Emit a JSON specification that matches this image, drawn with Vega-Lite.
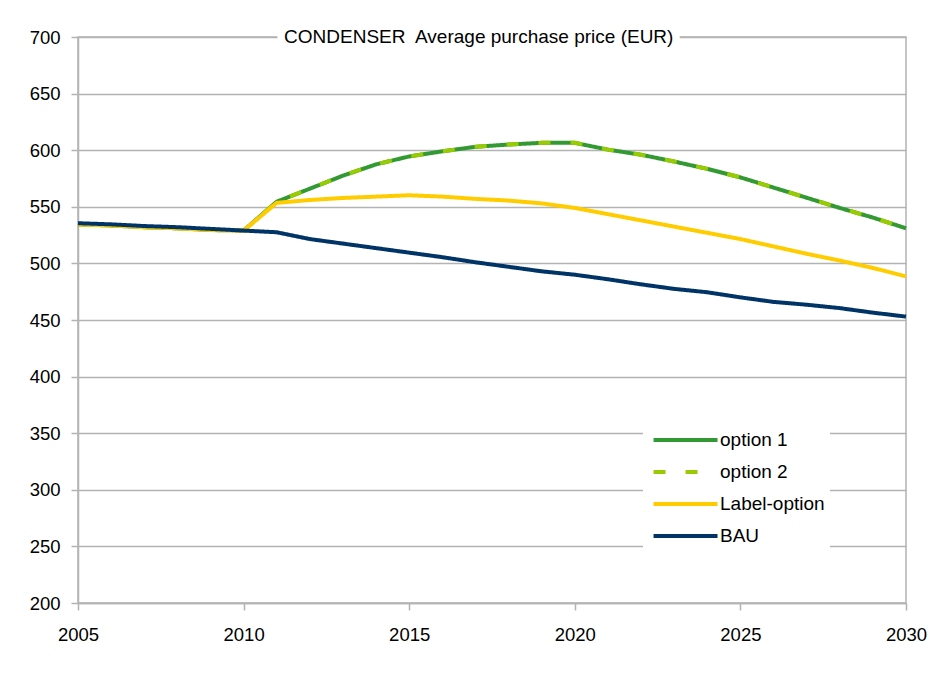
{
  "$schema": "https://vega.github.io/schema/vega-lite/v6.json",
  "width": 828,
  "height": 566,
  "autosize": {"type": "none"},
  "padding": {"left": 78, "top": 37, "right": 39, "bottom": 70},
  "background": "white",
  "config": {
    "font": "Liberation Sans",
    "view": {"stroke": "#b3b3b3", "strokeWidth": 1.5},
    "axis": {
      "labelFont": "Liberation Sans",
      "labelFontSize": 18.5,
      "labelColor": "#000000",
      "labelFlush": false,
      "domainColor": "#b3b3b3",
      "domainWidth": 1.5,
      "tickColor": "#b3b3b3",
      "tickWidth": 1.5,
      "tickSize": 7,
      "gridColor": "#b3b3b3",
      "gridWidth": 1.5,
      "title": null
    },
    "legend": {
      "orient": "none",
      "legendX": 565,
      "legendY": 385,
      "fillColor": "white",
      "padding": 5,
      "symbolType": "M-0.7,0H5.3",
      "symbolSize": 455,
      "symbolStrokeWidth": 4,
      "labelFont": "Liberation Sans",
      "labelFontSize": 19,
      "labelColor": "#000000",
      "labelOffset": 46,
      "rowPadding": 9,
      "title": null
    }
  },
  "layer": [
    {
      "data": {
        "values": [
          {"year": 2005, "BAU": 535.5, "option 1": 534.5, "option 2": 534.5, "Label-option": 534.5},
          {"year": 2006, "BAU": 534.5, "option 1": 533.5, "option 2": 533.5, "Label-option": 533.5},
          {"year": 2007, "BAU": 533, "option 1": 532, "option 2": 532, "Label-option": 532},
          {"year": 2008, "BAU": 532, "option 1": 531, "option 2": 531, "Label-option": 531},
          {"year": 2009, "BAU": 530.5, "option 1": 529.5, "option 2": 529.5, "Label-option": 529.5},
          {"year": 2010, "BAU": 529, "option 1": 529, "option 2": 529, "Label-option": 529},
          {"year": 2011, "BAU": 527.5, "option 1": 554.5, "option 2": 554.5, "Label-option": 553.5},
          {"year": 2012, "BAU": 521.5, "option 1": 566, "option 2": 566, "Label-option": 556},
          {"year": 2013, "BAU": 517.5, "option 1": 577.5, "option 2": 577.5, "Label-option": 557.8},
          {"year": 2014, "BAU": 513.5, "option 1": 587.5, "option 2": 587.5, "Label-option": 559},
          {"year": 2015, "BAU": 509.5, "option 1": 594.5, "option 2": 594.5, "Label-option": 560.2},
          {"year": 2016, "BAU": 505.5, "option 1": 599, "option 2": 599, "Label-option": 559},
          {"year": 2017, "BAU": 501, "option 1": 603, "option 2": 603, "Label-option": 557},
          {"year": 2018, "BAU": 497, "option 1": 605, "option 2": 605, "Label-option": 555.5},
          {"year": 2019, "BAU": 493, "option 1": 606.5, "option 2": 606.5, "Label-option": 553},
          {"year": 2020, "BAU": 490, "option 1": 606.5, "option 2": 606.5, "Label-option": 549},
          {"year": 2021, "BAU": 486, "option 1": 600.5, "option 2": 600.5, "Label-option": 543.5},
          {"year": 2022, "BAU": 481.5, "option 1": 596, "option 2": 596, "Label-option": 538},
          {"year": 2023, "BAU": 477.5, "option 1": 590, "option 2": 590, "Label-option": 532.5},
          {"year": 2024, "BAU": 474.5, "option 1": 583.5, "option 2": 583.5, "Label-option": 527},
          {"year": 2025, "BAU": 470, "option 1": 576, "option 2": 576, "Label-option": 521.5},
          {"year": 2026, "BAU": 466, "option 1": 567, "option 2": 567, "Label-option": 515},
          {"year": 2027, "BAU": 463.5, "option 1": 558, "option 2": 558, "Label-option": 508.5},
          {"year": 2028, "BAU": 460.5, "option 1": 549, "option 2": 549, "Label-option": 502.5},
          {"year": 2029, "BAU": 456.5, "option 1": 540.5, "option 2": 540.5, "Label-option": 496},
          {"year": 2030, "BAU": 453, "option 1": 531, "option 2": 531, "Label-option": 488.5}
        ]
      },
      "transform": [
        {"fold": ["option 1", "option 2", "Label-option", "BAU"], "as": ["series", "value"]}
      ],
      "encoding": {
        "x": {
          "field": "year",
          "type": "quantitative",
          "scale": {"domain": [2005, 2030], "nice": false, "zero": false},
          "axis": {"values": [2005, 2010, 2015, 2020, 2025, 2030], "format": "d", "grid": false, "labelPadding": 15}
        },
        "y": {
          "field": "value",
          "type": "quantitative",
          "scale": {"domain": [200, 700], "nice": false, "zero": false},
          "axis": {"values": [200, 250, 300, 350, 400, 450, 500, 550, 600, 650, 700], "grid": true, "labelPadding": 11}
        },
        "color": {
          "field": "series",
          "type": "nominal",
          "sort": ["option 1", "option 2", "Label-option", "BAU"],
          "scale": {
            "domain": ["option 1", "option 2", "Label-option", "BAU"],
            "range": ["#339933", "#99cc00", "#ffcc00", "#003366"]
          }
        },
        "strokeDash": {
          "field": "series",
          "type": "nominal",
          "sort": ["option 1", "option 2", "Label-option", "BAU"],
          "scale": {
            "domain": ["option 1", "option 2", "Label-option", "BAU"],
            "range": [[1, 0], [12, 20], [1, 0], [1, 0]]
          }
        }
      },
      "layer": [
        {"transform": [{"filter": "datum.series === 'option 1'"}], "mark": {"type": "line", "strokeWidth": 4}},
        {"transform": [{"filter": "datum.series === 'option 2'"}], "mark": {"type": "line", "strokeWidth": 4}},
        {"transform": [{"filter": "datum.series === 'Label-option'"}], "mark": {"type": "line", "strokeWidth": 4}},
        {"transform": [{"filter": "datum.series === 'BAU'"}], "mark": {"type": "line", "strokeWidth": 4}}
      ]
    },
    {
      "data": {"values": [{"t": "CONDENSER\u00a0 Average purchase price (EUR)"}]},
      "mark": {"type": "text", "fontSize": 19, "font": "Liberation Sans", "baseline": "middle", "align": "center", "fill": "white", "stroke": "white", "strokeWidth": 15},
      "encoding": {
        "x": {"datum": 2017.1, "type": "quantitative"},
        "y": {"datum": 700, "type": "quantitative"},
        "text": {"field": "t"}
      }
    },
    {
      "data": {"values": [{"t": "CONDENSER\u00a0 Average purchase price (EUR)"}]},
      "mark": {"type": "text", "fontSize": 19, "font": "Liberation Sans", "baseline": "middle", "align": "center", "fill": "black"},
      "encoding": {
        "x": {"datum": 2017.1, "type": "quantitative"},
        "y": {"datum": 700, "type": "quantitative"},
        "text": {"field": "t"}
      }
    }
  ]
}
